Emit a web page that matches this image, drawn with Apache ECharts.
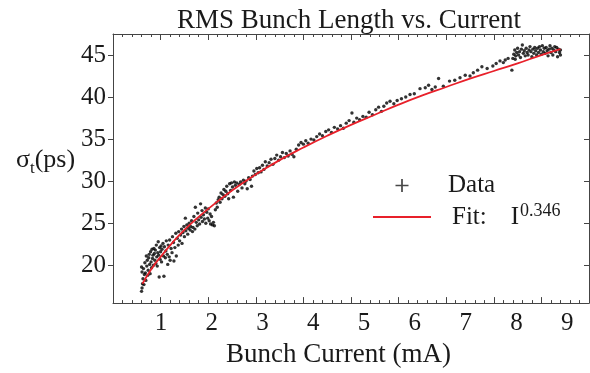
<!DOCTYPE html>
<html>
<head>
<meta charset="utf-8">
<title>RMS Bunch Length vs. Current</title>
<script src="https://cdn.jsdelivr.net/npm/echarts@6/dist/echarts.min.js"></script>
<style>
  html, body { margin: 0; padding: 0; background: #fff; }
  #chart { width: 590px; height: 373px; }
</style>
</head>
<body>
<div id="chart"></div>
<script>
const currentMA = [
  0.60, 0.61, 0.62, 0.60, 0.61, 0.63, 0.64, 0.65, 0.66, 0.67, 0.68, 0.69, 0.70, 0.71, 0.72, 0.73,
  0.74, 0.75, 0.76, 0.77, 0.78, 0.79, 0.80, 0.81, 0.82, 0.83, 0.84, 0.85, 0.86, 0.87, 0.88, 0.89,
  0.90, 0.91, 0.92, 0.93, 0.94, 0.95, 0.96, 0.97, 0.98, 0.99, 1.00, 1.01, 1.02, 1.03, 1.05, 1.06,
  1.07, 1.08, 1.10, 1.11, 1.12, 1.14, 1.15, 1.16, 1.18, 1.19, 1.20, 1.22, 1.24, 1.25, 1.27, 1.28,
  1.30, 1.32, 1.33, 1.35, 1.37, 1.38, 1.40, 1.42, 1.44, 1.45, 1.47, 1.49, 1.50, 1.52, 1.53, 1.55,
  1.57, 1.58, 1.60, 1.62, 1.63, 1.65, 1.67, 1.68, 1.70, 1.72, 1.73, 1.75, 1.77, 1.78, 1.80, 1.82,
  1.84, 1.85, 1.87, 1.88, 1.90, 1.92, 1.94, 1.95, 1.97, 1.99, 2.00, 2.02, 2.04, 2.05, 2.07, 2.09,
  2.11, 2.13, 2.15, 2.17, 2.19, 2.21, 2.23, 2.25, 2.27, 2.29, 2.31, 2.33, 2.35, 2.37, 2.39, 2.41,
  2.43, 2.45, 2.47, 2.49, 2.51, 2.53, 2.55, 2.57, 2.60, 2.62, 2.65, 2.68, 2.71, 2.74, 2.77, 2.79,
  2.82, 2.85, 2.88, 2.91, 2.93, 2.96, 2.99, 3.02, 3.05, 3.08, 3.11, 3.14, 3.17, 3.20, 3.24, 3.28,
  3.32, 3.36, 3.40, 3.44, 3.48, 3.52, 3.56, 3.60, 3.64, 3.68, 3.72, 3.76, 3.80, 3.85, 3.90, 3.95,
  4.00, 4.05, 4.10, 4.16, 4.22, 4.28, 4.34, 4.40, 4.47, 4.53, 4.59, 4.65, 4.72, 4.78, 4.84, 4.90,
  4.96, 5.02, 5.06, 5.12, 5.18, 5.25, 5.32, 5.38, 5.45, 5.52, 5.58, 5.64, 5.69, 5.75, 5.82, 5.90,
  5.97, 6.06, 6.15, 6.24, 6.33, 6.45, 6.56, 6.63, 6.70, 6.77, 6.84, 6.94, 7.07, 7.18, 7.29, 7.40,
  7.50, 7.57, 7.66, 7.75, 7.86, 7.98, 8.05, 8.13, 8.20, 8.24, 8.30, 8.38, 8.45, 8.40, 8.42, 8.44,
  8.46, 8.48, 8.50, 8.52, 8.54, 8.56, 8.58, 8.60, 8.62, 8.64, 8.66, 8.68, 8.70, 8.72, 8.74, 8.76,
  8.78, 8.80, 8.82, 8.84, 8.86, 8.88, 8.90, 8.92, 8.94, 8.96, 8.98, 9.00, 9.02, 9.04, 9.06, 9.08,
  9.10, 9.12, 9.14, 9.16, 9.18, 9.20, 9.22, 9.24, 9.26, 9.28, 9.30, 9.32, 9.34, 9.36, 9.38, 9.40,
  9.40
];
const sigmaPs = [
  16.9, 17.3, 17.8, 19.8, 19.2, 18.4, 19.6, 17.7, 18.9, 20.3, 19.1, 18.2, 21.1, 19.9, 20.6, 18.8,
  19.4, 20.9, 21.3, 20.1, 19.0, 21.6, 20.4, 19.7, 21.9, 20.8, 21.2, 20.0, 22.0, 21.4, 20.6, 21.8,
  20.2, 22.4, 21.0, 19.9, 21.5, 22.8, 21.2, 18.6, 22.1, 20.7, 21.6, 22.3, 20.4, 21.9, 22.6, 21.1,
  18.7, 22.2, 20.9, 21.7, 22.9, 21.3, 20.1, 22.4, 21.0, 23.0, 20.6, 22.0, 21.5, 23.4, 22.7, 20.5,
  22.1, 23.8, 21.1, 23.2, 22.4, 24.0, 22.9, 23.6, 24.3, 22.6, 23.9, 24.6, 23.4, 25.6, 24.1, 24.8,
  23.7, 24.4, 25.0, 24.2, 24.6, 25.3, 24.0, 24.5, 25.8, 24.3, 26.9, 25.1, 24.7, 26.2, 25.4, 24.9,
  27.3, 25.7, 26.5, 25.2, 26.0, 25.5, 26.8, 25.0, 26.3, 25.6, 26.7, 25.3, 26.1, 24.9, 25.8, 24.8,
  25.1, 24.7, 26.6, 27.4, 26.9, 27.8, 28.1, 27.5, 28.6, 27.9, 28.4, 29.0, 28.2, 28.8, 29.4, 28.5,
  27.9, 29.7, 28.9, 29.8, 29.3, 28.1, 29.9, 29.5, 29.8, 28.8, 29.6, 29.9, 29.2, 30.1, 29.7, 30.0,
  29.1, 30.4, 30.2, 29.4, 30.6, 31.2, 30.8, 31.5, 31.0, 31.6, 31.1, 31.9, 31.4, 32.3, 31.8, 32.2,
  32.6, 32.0, 32.7, 33.1, 32.5, 32.9, 33.4, 32.8, 33.3, 33.0, 33.6, 33.2, 32.9, 33.8, 34.3, 34.6,
  34.4, 34.8, 34.5, 35.0, 34.9, 35.3, 35.6, 35.4, 35.9, 36.1, 35.8, 36.4, 36.2, 36.6, 36.3, 36.9,
  37.2, 38.1, 37.0, 37.5, 37.3, 37.7, 37.6, 38.2, 37.9, 38.5, 38.8, 38.3, 38.9, 39.3, 39.5, 39.2,
  39.6, 39.8, 40.0, 40.3, 40.4, 41.0, 41.1, 41.4, 40.9, 41.2, 42.2, 41.3, 41.9, 42.0, 42.3, 42.6,
  42.5, 42.9, 43.2, 43.6, 43.4, 43.7, 44.0, 44.3, 44.1, 44.4, 44.6, 43.2, 44.5, 44.6, 45.1, 45.6,
  44.9, 45.3, 45.8, 45.0, 45.4, 44.7, 45.7, 46.2, 45.2, 45.5, 44.9, 45.8, 45.3, 45.0, 45.6, 46.0,
  45.4, 44.8, 45.7, 45.2, 45.9, 45.5, 45.0, 45.8, 45.3, 46.0, 45.6, 45.1, 46.1, 45.4, 45.8, 45.2,
  45.9, 45.5, 44.9, 45.7, 46.1, 45.3, 45.8, 45.0, 45.6, 46.0, 45.4, 45.9, 44.8, 45.7, 45.3, 45.6,
  45.0
];

// fitted curve, sigma ~ I^0.346
const fitCurrent = [0.62, 0.8, 1.0, 1.25, 1.5, 1.75, 2.0, 2.5, 3.0, 3.5, 4.0, 4.5, 5.0, 5.5, 6.0, 6.5, 7.0, 7.5, 8.0, 8.5, 9.0, 9.4];
const fitSigma = [17.8, 19.5, 21.0, 22.7, 24.2, 25.5, 26.7, 28.9, 30.8, 32.5, 34.0, 35.4, 36.7, 37.9, 39.1, 40.2, 41.2, 42.2, 43.1, 44.0, 45.0, 45.7];

const xTickLabels = [1, 2, 3, 4, 5, 6, 7, 8, 9];
const yTickValues = [20, 25, 30, 35, 40, 45];

const serif = '"Liberation Serif", "Times New Roman", serif';
const ink = '#1a1a1a';
const frame = '#444';
const fitRed = '#e8202a';

const chart = echarts.init(document.getElementById('chart'));

const frameAxis = {
  type: 'value',
  min: 0,
  max: 10,
  interval: 1,
  axisLine: { show: true, onZero: false, lineStyle: { color: frame, width: 1 } },
  axisTick: { show: true, inside: true, length: 6, lineStyle: { color: frame } },
  minorTick: { show: true, splitNumber: 5, length: 3, lineStyle: { color: frame } },
  axisLabel: { show: false },
  splitLine: { show: false }
};

chart.setOption({
  animation: false,
  backgroundColor: '#fff',
  title: {
    text: 'RMS Bunch Length vs. Current',
    left: 344,
    textAlign: 'center',
    top: 2,
    textStyle: { fontFamily: serif, fontSize: 27, fontWeight: 'normal', color: ink }
  },
  grid: { left: 113, right: 1, top: 34, bottom: 57 },
  legend: {
    orient: 'vertical',
    left: 368,
    top: 168,
    itemWidth: 58,
    itemHeight: 13,
    itemGap: 4,
    selectedMode: false,
    data: [
      { name: 'Data', icon: 'path://M5.2,0H6.8V5.2H12V6.8H6.8V12H5.2V6.8H0V5.2H5.2Z', itemStyle: { color: ink } },
      { name: 'Fit', icon: 'path://M0,0H58V2H0Z', itemStyle: { color: fitRed } }
    ],
    formatter: (name) => name === 'Data' ? '{d|Data}' : '{f|Fit:}{i|I}{s|0.346}',
    textStyle: {
      fontFamily: serif,
      fontSize: 25,
      color: ink,
      rich: {
        d: { fontFamily: serif, fontSize: 25, color: ink, lineHeight: 24, padding: [0, 0, 0, 12] },
        f: { fontFamily: serif, fontSize: 25, color: ink, lineHeight: 24, padding: [0, 0, 0, 16] },
        i: { fontFamily: serif, fontSize: 25, color: ink, lineHeight: 24, padding: [0, 0, 0, 24] },
        s: { fontFamily: serif, fontSize: 18, color: ink, lineHeight: 18, padding: [0, 0, 12, 1] }
      }
    }
  },
  xAxis: [
    Object.assign({}, frameAxis, { position: 'bottom' }),
    Object.assign({}, frameAxis, { position: 'top' }),
    {
      // tick labels as they sit under the frame in the original figure
      type: 'value',
      position: 'bottom',
      min: 0.054,
      max: 9.43,
      axisLine: { show: false },
      axisTick: { show: false },
      splitLine: { show: false },
      axisLabel: {
        customValues: xTickLabels,
        margin: 8,
        fontFamily: serif,
        fontSize: 25,
        color: ink
      },
      name: 'Bunch Current (mA)',
      nameLocation: 'middle',
      nameGap: 31,
      nameTextStyle: { fontFamily: serif, fontSize: 27, color: ink, padding: [0, 25, 0, 0] }
    }
  ],
  yAxis: [
    {
      type: 'value',
      position: 'left',
      min: 15.5,
      max: 47.5,
      axisLine: { show: true, onZero: false, lineStyle: { color: frame, width: 1 } },
      axisTick: { show: true, inside: false, length: 5, customValues: yTickValues, lineStyle: { color: frame } },
      axisLabel: { customValues: yTickValues, margin: 7, fontFamily: serif, fontSize: 25, color: ink },
      splitLine: { show: false },
      name: '{g|σ}{t|t}{p|(ps)}',
      nameLocation: 'middle',
      nameRotate: 0,
      nameGap: 34,
      nameTextStyle: {
        color: ink,
        padding: [0, 0, 16, 0],
        rich: {
          g: { fontFamily: serif, fontSize: 26, color: ink, lineHeight: 28 },
          t: { fontFamily: serif, fontSize: 17, color: ink, lineHeight: 28, padding: [16, 0, 0, 0] },
          p: { fontFamily: serif, fontSize: 26, color: ink, lineHeight: 28 }
        }
      }
    },
    {
      type: 'value',
      position: 'right',
      min: 15.5,
      max: 47.5,
      axisLine: { show: true, onZero: false, lineStyle: { color: frame, width: 1 } },
      axisTick: { show: true, inside: true, length: 5, customValues: yTickValues, lineStyle: { color: frame } },
      axisLabel: { show: false },
      splitLine: { show: false }
    }
  ],
  series: [
    {
      name: 'Data',
      type: 'scatter',
      xAxisIndex: 0,
      yAxisIndex: 0,
      symbol: 'circle',
      symbolSize: 3.4,
      itemStyle: { color: '#000' },
      data: currentMA.map((x, i) => [x, sigmaPs[i]])
    },
    {
      name: 'Fit',
      type: 'line',
      xAxisIndex: 0,
      yAxisIndex: 0,
      smooth: true,
      showSymbol: false,
      symbol: 'none',
      z: 3,
      lineStyle: { color: fitRed, width: 1.8 },
      itemStyle: { color: fitRed },
      data: fitCurrent.map((x, i) => [x, fitSigma[i]])
    }
  ]
});
</script>
</body>
</html>
